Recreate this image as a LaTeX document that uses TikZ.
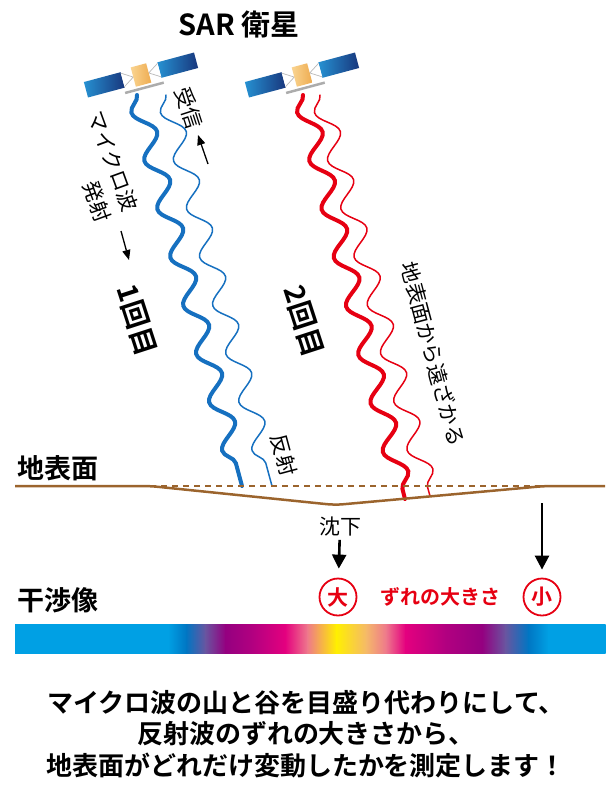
\documentclass[tikz,border=0pt]{standalone}
\usepackage{fontspec}
\setmainfont{Noto Sans CJK JP}[BoldFont={Noto Sans CJK JP Bold}]
\usetikzlibrary{arrows.meta,decorations.pathmorphing}

% colours
\definecolor{waveblue}{RGB}{22,112,192}
\definecolor{wavered}{RGB}{230,0,18}
\definecolor{groundbrown}{RGB}{155,100,45}
\definecolor{panellight}{RGB}{38,145,210}
\definecolor{paneldark}{RGB}{24,55,125}
\definecolor{bodylight}{RGB}{250,212,145}
\definecolor{bodydark}{RGB}{238,172,80}
% fringe colours
\definecolor{fcyan}{RGB}{0,160,228}
\definecolor{fblue}{RGB}{0,118,195}
\definecolor{fviolet}{RGB}{105,85,160}
\definecolor{fpurple}{RGB}{148,0,128}
\definecolor{fplum}{RGB}{178,0,128}
\definecolor{fmagenta}{RGB}{228,0,127}
\definecolor{fpink}{RGB}{238,120,140}
\definecolor{forange}{RGB}{245,185,105}
\definecolor{fyellow}{RGB}{255,240,0}

\tikzset{
  wave/.style={decorate, line cap=round,
    decoration={snake, amplitude=-10pt, segment length=50pt}},
  thickwave/.style={wave, line width=4pt},
  thinwave/.style={wave, line width=1.5pt},
  groundline/.style={groundbrown, line width=2.5pt},
  label/.style={inner sep=0pt, font=\fontsize{21}{21}\selectfont},
  heading/.style={inner sep=0pt, font=\fontsize{27}{27}\selectfont\bfseries},
  count/.style={inner sep=0pt, font=\fontsize{28}{28}\selectfont\bfseries},
  sizemark/.style={circle, draw=wavered, line width=1.8pt, minimum size=37pt,
    inner sep=0pt, text=wavered, font=\fontsize{21}{21}\selectfont\bfseries},
  bigarrow/.style={line width=2.6pt, -{Triangle[width=14pt,length=14pt]}},
  thinarrow/.style={line width=1.3pt, -{Triangle[width=8pt,length=10pt]}},
  satellite/.pic={
    % solar panels
    \shade[left color=panellight, right color=paneldark] (-57,-8) rectangle (-19,8);
    \shade[left color=panellight, right color=paneldark] (19,-8) rectangle (57,8);
    % struts
    \draw[gray!55, line width=0.7pt, fill=white] (-19,-7) -- (-8,0) -- (-19,7);
    \draw[gray!55, line width=0.7pt, fill=white] (19,-7) -- (8,0) -- (19,7);
    % body and antenna bar
    \shade[left color=bodylight, right color=bodydark] (-8,-10) rectangle (8,10);
    \fill[gray!65] (-20,12) rectangle (20,14.5);
  }
}

\begin{document}
\begin{tikzpicture}[x=1pt, y=-1pt]
  \useasboundingbox (0,0) rectangle (612,785);

  % satellites
  \node[heading, font=\fontsize{29}{29}\selectfont\bfseries] (title) at (239,24) {SAR 衛星};
  \pic[rotate=15] at (141,75) {satellite};
  \pic[rotate=15] at (302,75) {satellite};

  % first pass
  \coordinate (emit1) at (137,95);
  \coordinate (hit1) at (242,486);
  \coordinate (echo1) at (166,95);
  \coordinate (back1) at (272,486);
  \draw[thickwave, waveblue] (emit1) -- (hit1);
  \draw[thinwave, waveblue] (echo1) -- (back1);

  % second pass
  \coordinate (emit2) at (303,95);
  \coordinate (hit2) at (405,499);
  \coordinate (echo2) at (320,95);
  \coordinate (back2) at (430,496);
  \draw[thickwave, wavered] (emit2) -- (hit2);
  \draw[thinwave, wavered] (echo2) -- (back2);

  % labels along the waves
  \node[label, rotate=-70] (micro) at (113,161) {マイクロ波};
  \node[label, rotate=-70] (hassha) at (97,202) {発射};
  \coordinate (hs) at (121,231);
  \coordinate (he) at (129,260);
  \draw[thinarrow] (hs) -- (he);
  \node[label, rotate=-72] (jushin) at (189,108) {受信};
  \coordinate (js) at (208,164);
  \coordinate (je) at (198,135);
  \draw[thinarrow] (js) -- (je);
  \node[count, rotate=-72] (first) at (137,320) {1回目};
  \node[count, rotate=-72] (second) at (304,321) {2回目};
  \node[label, rotate=-75] (farther) at (433,354) {地表面から遠ざかる};
  \node[label, rotate=-75] (hansha) at (284,455) {反射};

  % ground surface
  \node[heading] (surface) at (58,468) {地表面};
  \coordinate (gl) at (15,486);
  \coordinate (g1) at (150,486);
  \coordinate (gmin) at (335,505);
  \coordinate (g2) at (545,486);
  \coordinate (gr) at (605,486);
  \draw[groundline, rounded corners=8pt] (gl) -- (g1) -- (gmin) -- (g2) -- (gr);
  \draw[groundline, line width=2.8pt, dash pattern=on 6pt off 5pt] (g1) -- (g2);

  % subsidence arrows
  \node[label] (sink) at (340,527) {沈下};
  \node[sizemark] (big) at (338,597) {大};
  \node[sizemark] (small) at (542,597) {小};
  \node[inner sep=0pt, text=wavered, font=\fontsize{20}{20}\selectfont\bfseries]
    (shift) at (440,597) {ずれの大きさ};
  \coordinate (rtop) at (542,503);
  \draw[bigarrow, shorten <=3pt, shorten >=9pt] (sink) -- (big);
  \draw[bigarrow, shorten >=8pt] (rtop) -- (small);

  % interferogram
  \node[heading] (fringe) at (58,600) {干渉像};
  \foreach \xa/\ca/\xb/\cb in {15/fcyan/168/fcyan, 168/fcyan/186/fblue,
      186/fblue/205/fviolet, 205/fviolet/225/fpurple, 225/fpurple/252/fplum,
      252/fplum/285/fmagenta, 285/fmagenta/307/fpink, 307/fpink/336/fyellow,
      336/fyellow/366/forange, 366/forange/386/fpink, 386/fpink/405/fmagenta,
      405/fmagenta/445/fplum, 445/fplum/482/fpurple, 482/fpurple/505/fviolet,
      505/fviolet/528/fblue, 528/fblue/548/fcyan, 548/fcyan/605/fcyan}
    \shade[left color=\ca, right color=\cb] (\xa,624) rectangle ({\xb+0.6},653);

  % summary
  \node[inner sep=0pt, align=center, font=\fontsize{26}{31.5}\selectfont\bfseries]
    (summary) at (306,734)
    {マイクロ波の山と谷を目盛り代わりにして、\\
     反射波のずれの大きさから、\\
     地表面がどれだけ変動したかを測定します！};
\end{tikzpicture}
\end{document}
